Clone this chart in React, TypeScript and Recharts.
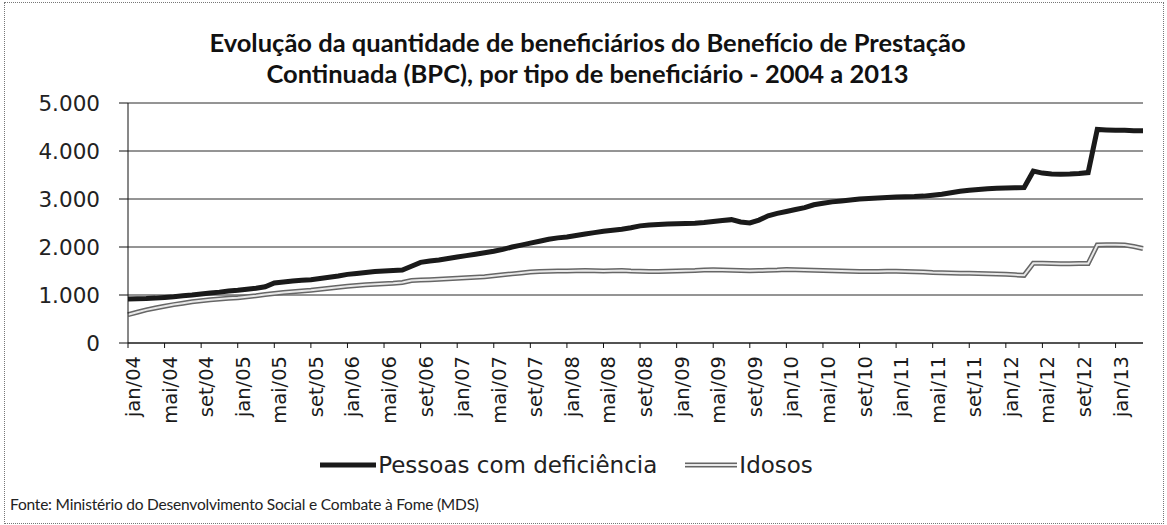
import { LineChart, Line, XAxis, YAxis, CartesianGrid, Legend } from "recharts";

const monthNames = ["jan", "fev", "mar", "abr", "mai", "jun", "jul", "ago", "set", "out", "nov", "dez"];
const years = ["04", "05", "06", "07", "08", "09", "10", "11", "12", "13"];

// Pessoas com deficiência, jan/04 .. abr/13
const pcdValues = [
  915, 920, 925, 935, 950, 965, 985, 1000, 1020, 1040, 1060, 1085,
  1100, 1120, 1140, 1170, 1250, 1270, 1290, 1305, 1320, 1345, 1370, 1395,
  1430, 1450, 1470, 1490, 1500, 1510, 1520, 1600, 1680, 1710, 1730, 1760,
  1790, 1820, 1850, 1880, 1910, 1950, 2000, 2040, 2080, 2120, 2160, 2190,
  2210, 2240, 2270, 2300, 2330, 2350, 2370, 2400, 2440, 2460, 2470, 2480,
  2485, 2490, 2495, 2510, 2530, 2550, 2570, 2520, 2500, 2560, 2650, 2700,
  2740, 2780, 2820, 2880, 2910, 2940, 2960, 2980, 3000, 3010, 3020, 3030,
  3040, 3045, 3050, 3060, 3080, 3100, 3130, 3160, 3180, 3200, 3215, 3225,
  3230, 3235, 3240, 3580, 3540, 3520, 3515, 3520, 3530, 3550, 4450, 4440,
  4430, 4430, 4420, 4420,
];

// Idosos, jan/04 .. abr/13
const idososValues = [
  590, 640, 690, 730, 765, 800, 830, 860, 880, 900, 915, 930,
  945, 965, 985, 1010, 1030, 1050, 1070, 1085, 1100, 1120, 1140, 1160,
  1180, 1200, 1215, 1225, 1235, 1245, 1260, 1300, 1310, 1320, 1330, 1340,
  1350, 1360, 1370, 1380, 1400, 1420, 1440, 1460, 1480, 1490, 1495, 1500,
  1500, 1505, 1510, 1505, 1500, 1505, 1510, 1500, 1495, 1490, 1490, 1495,
  1500, 1505, 1510, 1520, 1525, 1520, 1515, 1510, 1505, 1510, 1515, 1520,
  1530, 1525, 1520, 1515, 1510, 1505, 1500, 1495, 1490, 1490, 1490, 1495,
  1495, 1490, 1485, 1480, 1470, 1465, 1460, 1455, 1455, 1450, 1445, 1440,
  1430, 1420, 1410, 1660, 1660, 1655, 1650, 1650, 1655, 1655, 2040, 2045,
  2045, 2040, 2010, 1970,
];

const yTicks = [0, 1000, 2000, 3000, 4000, 5000];

const data = pcdValues.map((v, i) => ({
  label: `${monthNames[i % 12]}/${years[Math.floor(i / 12)]}`,
  pcd: v,
  idosos: idososValues[i],
}));

const fmtY = (v: number) => (v === 0 ? "0" : `${v / 1000}.000`);

const MonthTick = (props: any) => {
  const { x, y, payload } = props;
  return (
    <text
      transform={`translate(${x},${y}) rotate(-90)`}
      x={-6}
      dy={12}
      textAnchor="end"
      fontFamily="DejaVu Sans"
      fontSize={19.5}
      fill="#1a1a1a"
    >
      {payload.value}
    </text>
  );
};

const LegendBox = () => (
  <div
    style={{
      height: 44,
      display: "flex",
      alignItems: "center",
      justifyContent: "center",
      fontFamily: "DejaVu Sans",
      fontSize: 23,
      color: "#222",
      paddingRight: 10,
    }}
  >
    <svg width={56} height={10}>
      <line x1={0} y1={5} x2={56} y2={5} stroke="#1a1a1a" strokeWidth={5} />
    </svg>
    <span style={{ marginLeft: 2, marginRight: 28 }}>Pessoas com deficiência</span>
    <svg width={52} height={10}>
      <line x1={0} y1={5} x2={52} y2={5} stroke="#666" strokeWidth={5} />
      <line x1={0} y1={5} x2={52} y2={5} stroke="#e8e8e8" strokeWidth={2} />
    </svg>
    <span style={{ marginLeft: 2 }}>Idosos</span>
  </div>
);

export default function App() {
  return (
    <div
      style={{
        position: "absolute",
        left: 0,
        top: 0,
        width: 1167,
        height: 525,
        background: "#fff",
      }}
    >
      <div
        style={{
          position: "absolute",
          left: 4,
          top: 2,
          width: 1158,
          height: 520,
          border: "1px dotted #777",
        }}
      />
      <div
        style={{
          position: "absolute",
          top: 27,
          left: 0,
          width: 1167,
          textAlign: "center",
          fontFamily: "Lato",
          fontWeight: 700,
          fontSize: 25.5,
          lineHeight: "31px",
          color: "#111",
          paddingLeft: 8,
          boxSizing: "border-box",
        }}
      >
        Evolução da quantidade de beneficiários do Benefício de Prestação
        <br />
        Continuada (BPC), por tipo de beneficiário - 2004 a 2013
      </div>
      <LineChart
        width={1167}
        height={525}
        data={data}
        margin={{ top: 103, right: 24, left: 0, bottom: 38 }}
      >
        <CartesianGrid vertical={false} stroke="#2a2a2a" />
        <XAxis
          dataKey="label"
          interval={3}
          tick={<MonthTick />}
          tickSize={5}
          height={100}
          stroke="#111"
        />
        <YAxis
          domain={[0, 5000]}
          ticks={yTicks}
          tickFormatter={fmtY}
          width={128}
          tickSize={9}
          tickMargin={19}
          stroke="#111"
          tick={{ fontFamily: "DejaVu Sans", fontSize: 21.5, fill: "#222" }}
        />
        <Legend verticalAlign="bottom" content={<LegendBox />} />
        <Line
          dataKey="idosos"
          stroke="#666"
          strokeWidth={5}
          dot={false}
          isAnimationActive={false}
        />
        <Line
          dataKey="idosos"
          stroke="#e8e8e8"
          strokeWidth={2}
          dot={false}
          isAnimationActive={false}
        />
        <Line
          dataKey="pcd"
          stroke="#1a1a1a"
          strokeWidth={5}
          dot={false}
          isAnimationActive={false}
        />
      </LineChart>
      <div
        style={{
          position: "absolute",
          left: 10,
          top: 495,
          fontFamily: "Lato",
          fontSize: 15.5,
          color: "#222",
          letterSpacing: -0.2,
        }}
      >
        Fonte: Ministério do Desenvolvimento Social e Combate à Fome (MDS)
      </div>
    </div>
  );
}
